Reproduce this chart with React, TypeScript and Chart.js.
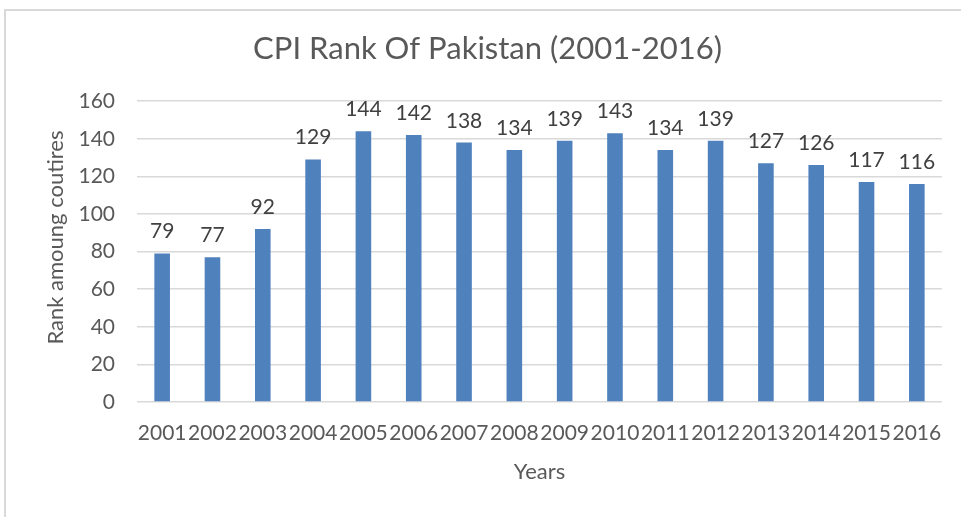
import React, { useEffect, useRef } from "react";
import { Chart, registerables } from "chart.js";

Chart.register(...registerables);

const years = ["2001", "2002", "2003", "2004", "2005", "2006", "2007", "2008", "2009", "2010", "2011", "2012", "2013", "2014", "2015", "2016"];
const ranks = [79, 77, 92, 129, 144, 142, 138, 134, 139, 143, 134, 139, 127, 126, 117, 116];
const yMin = 0;
const yMax = 160;
const yStep = 20;

const titleText = "CPI Rank Of Pakistan (2001-2016)";
const yTitle = "Rank amoung coutires";
const xTitle = "Years";

const valueLabels = {
  id: "valueLabels",
  afterDatasetsDraw(chart: any) {
    const ctx = chart.ctx;
    const meta = chart.getDatasetMeta(0);
    const data = chart.data.datasets[0].data;
    ctx.save();
    ctx.font = "21px Lato";
    ctx.fillStyle = "#404040";
    ctx.textAlign = "center";
    ctx.textBaseline = "alphabetic";
    meta.data.forEach((el: any, i: number) => {
      ctx.fillText(String(data[i]), el.x, el.y - 15);
    });
    ctx.restore();
  },
};

const yTitlePlugin = {
  id: "yTitlePlugin",
  afterDraw(chart: any) {
    const ctx = chart.ctx;
    const area = chart.chartArea;
    ctx.save();
    ctx.font = "22px Lato";
    ctx.fillStyle = "#595959";
    ctx.textAlign = "center";
    ctx.textBaseline = "middle";
    ctx.translate(56, (area.top + area.bottom) / 2 - 14);
    ctx.rotate(-Math.PI / 2);
    ctx.fillText(yTitle, 0, 0);
    ctx.restore();
  },
};

export default function App() {
  const ref = useRef<HTMLCanvasElement | null>(null);

  useEffect(() => {
    if (!ref.current) return;
    const chart = new Chart(ref.current, {
      type: "bar",
      data: {
        labels: years,
        datasets: [
          {
            data: ranks,
            backgroundColor: "#4f81bd",
            borderWidth: 0,
            barPercentage: 0.31,
            categoryPercentage: 1,
          },
        ],
      },
      options: {
        animation: false,
        responsive: false,
        maintainAspectRatio: false,
        layout: { padding: { left: 33, right: 19, top: 0, bottom: 0 } },
        plugins: {
          legend: { display: false },
          tooltip: { enabled: false },
          title: {
            display: true,
            text: titleText,
            color: "#595959",
            font: { family: "Lato", size: 31, weight: "normal" },
            padding: { top: 30, bottom: 34 },
          },
        },
        scales: {
          x: {
            grid: { display: false, drawTicks: false },
            border: { display: false },
            ticks: {
              color: "#595959",
              font: { family: "Lato", size: 21 },
              padding: 19,
              autoSkip: false,
              maxRotation: 0,
              minRotation: 0,
            },
            title: {
              display: true,
              text: xTitle,
              color: "#595959",
              font: { family: "Lato", size: 22 },
              padding: { top: 0, bottom: 32 },
            },
            afterFit(scale: any) {
              scale.height = 115;
            },
          },
          y: {
            min: yMin,
            max: yMax,
            grid: { color: "#d9d9d9", lineWidth: 1.5, drawTicks: false },
            border: { display: false },
            ticks: {
              stepSize: yStep,
              color: "#595959",
              font: { family: "Lato", size: 21 },
              padding: 22,
            },
            title: { display: false },
            afterFit(scale: any) {
              scale.width = 104;
            },
          },
        },
      },
      plugins: [valueLabels, yTitlePlugin],
    });
    return () => chart.destroy();
  }, []);

  return (
    <div style={{ position: "fixed", left: 0, top: 0, width: 961, height: 517, background: "#fff", overflow: "hidden" }}>
      <div
        style={{
          position: "absolute",
          left: 4,
          top: 9,
          width: 957,
          height: 508,
          borderLeft: "2px solid #d9d9d9",
          borderTop: "2px solid #d9d9d9",
          boxSizing: "border-box",
        }}
      />
      <canvas ref={ref} width={961} height={517} style={{ position: "absolute", left: 0, top: 0 }} />
    </div>
  );
}
